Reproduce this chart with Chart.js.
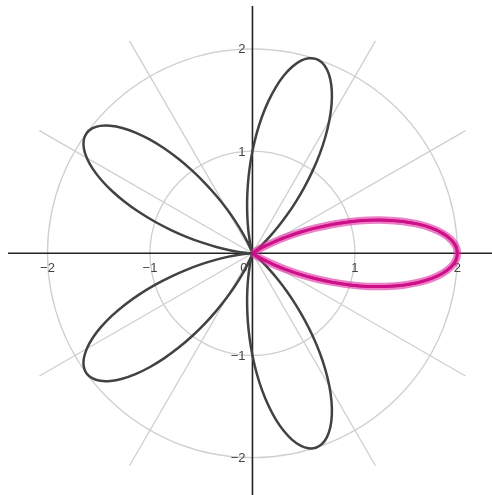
<!DOCTYPE html>
<html>
<head>
<meta charset="utf-8">
<script src="https://cdn.jsdelivr.net/npm/chart.js@4.4.1/dist/chart.umd.min.js"></script>
<style>
html,body{margin:0;padding:0;background:#fff;}
canvas{display:block;}
</style>
</head>
<body>
<canvas id="c" width="492" height="495"></canvas>
<script>
// Five-petal curve r(theta), sampled every 2 degrees from 0 to 360
const thetaDeg = [0,2,4,6,8,10,12,14,16,18,20,22,24,26,28,30,32,34,36,38,40,42,44,46,48,50,52,54,56,58,60,62,64,66,68,70,
  72,74,76,78,80,82,84,86,88,90,92,94,96,98,100,102,104,106,108,110,112,114,116,118,120,122,124,126,128,130,132,134,136,138,140,142,
  144,146,148,150,152,154,156,158,160,162,164,166,168,170,172,174,176,178,180,182,184,186,188,190,192,194,196,198,200,202,204,206,208,210,212,214,
  216,218,220,222,224,226,228,230,232,234,236,238,240,242,244,246,248,250,252,254,256,258,260,262,264,266,268,270,272,274,276,278,280,282,284,286,
  288,290,292,294,296,298,300,302,304,306,308,310,312,314,316,318,320,322,324,326,328,330,332,334,336,338,340,342,344,346,348,350,352,354,356,358,
  360];
const rValues = [
  2,1.985,1.940,1.866,1.766,1.643,1.5,1.342,1.174,1,0.826,0.658,0.5,0.357,0.234,0.134,0.060,0.015,0,0.015,0.060,0.134,0.234,0.357,0.5,0.658,0.826,1,1.174,1.342,1.5,1.643,1.766,1.866,1.940,1.985,
  2,1.985,1.940,1.866,1.766,1.643,1.5,1.342,1.174,1,0.826,0.658,0.5,0.357,0.234,0.134,0.060,0.015,0,0.015,0.060,0.134,0.234,0.357,0.5,0.658,0.826,1,1.174,1.342,1.5,1.643,1.766,1.866,1.940,1.985,
  2,1.985,1.940,1.866,1.766,1.643,1.5,1.342,1.174,1,0.826,0.658,0.5,0.357,0.234,0.134,0.060,0.015,0,0.015,0.060,0.134,0.234,0.357,0.5,0.658,0.826,1,1.174,1.342,1.5,1.643,1.766,1.866,1.940,1.985,
  2,1.985,1.940,1.866,1.766,1.643,1.5,1.342,1.174,1,0.826,0.658,0.5,0.357,0.234,0.134,0.060,0.015,0,0.015,0.060,0.134,0.234,0.357,0.5,0.658,0.826,1,1.174,1.342,1.5,1.643,1.766,1.866,1.940,1.985,
  2,1.985,1.940,1.866,1.766,1.643,1.5,1.342,1.174,1,0.826,0.658,0.5,0.357,0.234,0.134,0.060,0.015,0,0.015,0.060,0.134,0.234,0.357,0.5,0.658,0.826,1,1.174,1.342,1.5,1.643,1.766,1.866,1.940,1.985,
  2];
// Highlighted petal, theta from -36 to 36 degrees
const petalThetaDeg = [-36,-34,-32,-30,-28,-26,-24,-22,-20,-18,-16,-14,-12,-10,-8,-6,-4,-2,0,2,4,6,8,10,12,14,16,18,20,22,24,26,28,30,32,34,36];
const petalR = [0,0.015,0.060,0.134,0.234,0.357,0.5,0.658,0.826,1,1.174,1.342,1.5,1.643,1.766,1.866,1.940,1.985,2,1.985,1.940,1.866,1.766,1.643,1.5,1.342,1.174,1,0.826,0.658,0.5,0.357,0.234,0.134,0.060,0.015,0];
// Polar grid
const gridCircles = [1, 2];
const gridSpokesDeg = [30, 60, 120, 150, 210, 240, 300, 330];
const gridSpokeLength = 2.4;
// Tick labels
const xTickValues = [-2, -1, 1, 2];
const yTickValues = [2, 1, -1, -2];
const originLabel = '0';

function toXY(thetas, rs) {
  return thetas.map((t, i) => {
    const a = t * Math.PI / 180;
    return { x: rs[i] * Math.cos(a), y: rs[i] * Math.sin(a) };
  });
}
function fmt(v) { return v < 0 ? '\u2212' + Math.abs(v) : String(v); }

const polarGrid = {
  id: 'polarGrid',
  beforeDatasetsDraw(chart) {
    const ctx = chart.ctx, xs = chart.scales.x, ys = chart.scales.y, area = chart.chartArea;
    const cx = xs.getPixelForValue(0), cy = ys.getPixelForValue(0);
    ctx.save();
    ctx.strokeStyle = '#cfcfcf';
    ctx.lineWidth = 1.3;
    gridCircles.forEach(r => {
      const rx = xs.getPixelForValue(r) - cx;
      const ry = cy - ys.getPixelForValue(r);
      ctx.beginPath();
      ctx.ellipse(cx, cy, rx, ry, 0, 0, Math.PI * 2);
      ctx.stroke();
    });
    gridSpokesDeg.forEach(d => {
      const a = d * Math.PI / 180;
      ctx.beginPath();
      ctx.moveTo(cx, cy);
      ctx.lineTo(xs.getPixelForValue(gridSpokeLength * Math.cos(a)), ys.getPixelForValue(gridSpokeLength * Math.sin(a)));
      ctx.stroke();
    });
    // axes
    ctx.strokeStyle = '#222';
    ctx.lineWidth = 1.6;
    ctx.beginPath();
    ctx.moveTo(area.left, cy); ctx.lineTo(area.right, cy);
    ctx.moveTo(cx, area.top); ctx.lineTo(cx, area.bottom);
    ctx.stroke();
    // labels
    ctx.fillStyle = '#444';
    ctx.font = '13px "Liberation Sans", Arial, sans-serif';
    ctx.textAlign = 'center';
    ctx.textBaseline = 'top';
    xTickValues.forEach(v => {
      ctx.fillText(fmt(v), xs.getPixelForValue(v), cy + 9);
    });
    ctx.textAlign = 'right';
    ctx.fillText(originLabel, cx - 5, cy + 9);
    ctx.textBaseline = 'middle';
    yTickValues.forEach(v => {
      ctx.fillText(fmt(v), cx - 7, ys.getPixelForValue(v) + 1);
    });
    ctx.restore();
  }
};

new Chart(document.getElementById('c'), {
  type: 'scatter',
  data: {
    datasets: [
      { data: toXY(thetaDeg, rValues), order: 3, showLine: true, borderColor: '#424242', borderWidth: 2.5, pointRadius: 0, tension: 0.4, fill: false },
      { data: toXY(petalThetaDeg, petalR), order: 2, showLine: true, borderColor: 'rgba(222,40,160,0.6)', borderWidth: 7.5, pointRadius: 0, tension: 0.4, fill: false },
      { data: toXY(petalThetaDeg, petalR), order: 1, showLine: true, borderColor: '#cf0f88', borderWidth: 3, pointRadius: 0, tension: 0.4, fill: false }
    ]
  },
  options: {
    responsive: false,
    devicePixelRatio: 1,
    animation: false,
    layout: { padding: { left: 8, top: 6, right: 0, bottom: 0 } },
    plugins: { legend: { display: false }, tooltip: { enabled: false } },
    scales: {
      x: { type: 'linear', display: false, min: -2.385, max: 2.337 },
      y: { type: 'linear', display: false, min: -2.365, max: 2.42 }
    }
  },
  plugins: [polarGrid]
});
</script>
</body>
</html>
